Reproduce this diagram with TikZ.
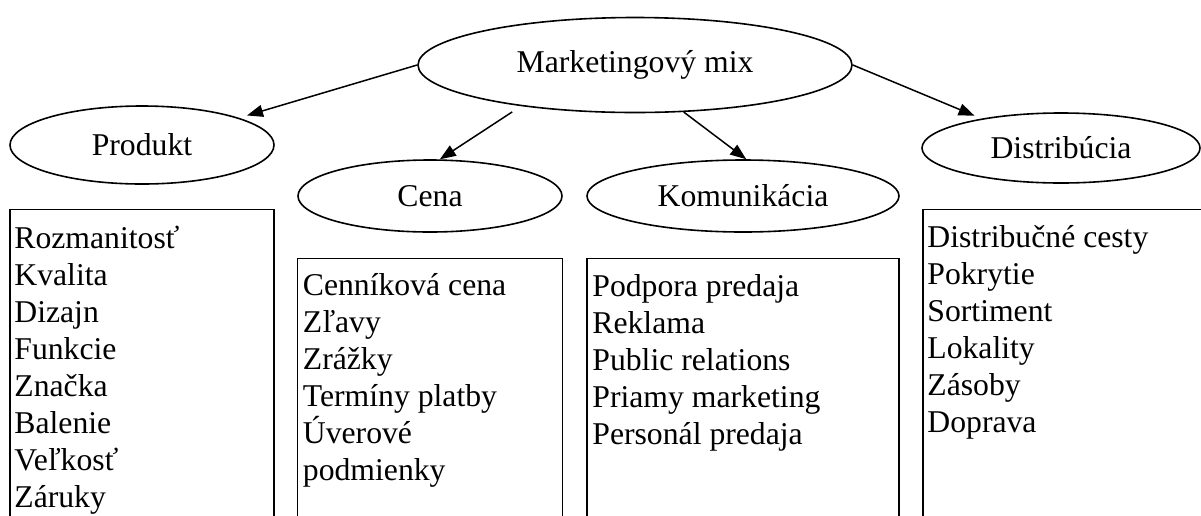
\documentclass[tikz,border=0pt]{standalone}
\usepackage{fontspec}
\setmainfont{Liberation Serif}
\usetikzlibrary{arrows.meta, positioning, calc, shapes.geometric}

\begin{document}
\begin{tikzpicture}[
    x=1pt, y=-1pt,
    font=\fontsize{31.7pt}{37pt}\selectfont,
    oval/.style={ellipse, draw, line width=1.6pt, inner sep=0pt},
    listbox/.style={rectangle, draw, line width=1.6pt, minimum height=400pt},
    item/.style={anchor=base west, inner sep=0pt},
    arr/.style={-{Triangle[length=16pt, width=12pt]}, line width=1.5pt},
]
\useasboundingbox (0,0) rectangle (1201,515);
\clip (0,0) rectangle (1201,515);

\node[oval, minimum width=434pt, minimum height=95pt] (mix) at (635,65) {Marketingový mix};
\node[oval, minimum width=264pt, minimum height=78pt] (prod) at (142,145) {Produkt};
\node[oval, minimum width=264pt, minimum height=72pt] (cena) at (430,196) {Cena};
\node[oval, minimum width=312pt, minimum height=72pt] (kom) at (743,196) {Komunikácia};
\node[oval, minimum width=278pt, minimum height=70pt] (dist) at (1061,148) {Distribúcia};

\node[listbox, minimum width=264pt, below=24pt of prod] (prodbox) {};
\node[listbox, minimum width=265pt, below=25pt of cena] (cenabox) {};
\node[listbox, minimum width=312pt, below=25pt of kom] (kombox) {};
\node[listbox, minimum width=320pt, anchor=north west] (distbox)
    at ($(dist.west |- dist.south)+(1,25)$) {};

\foreach \t [count=\i from 0] in {Rozmanitosť, Kvalita, Dizajn, Funkcie, Značka, Balenie, Veľkosť, Záruky}
    \node[item] (prod-\i) at ($(prodbox.north west)+(5,40+37*\i)$) {\t};
\foreach \t [count=\i from 0] in {Cenníková cena, Zľavy, Zrážky, Termíny platby, Úverové, podmienky}
    \node[item] (cena-\i) at ($(cenabox.north west)+(6,38+37*\i)$) {\t};
\foreach \t [count=\i from 0] in {Podpora predaja, Reklama, Public relations, Priamy marketing, Personál predaja}
    \node[item] (kom-\i) at ($(kombox.north west)+(6,39+37*\i)$) {\t};
\foreach \t [count=\i from 0] in {Distribučné cesty, Pokrytie, Sortiment, Lokality, Zásoby, Doprava}
    \node[item] (dist-\i) at ($(distbox.north west)+(5,39+37*\i)$) {\t};

\draw[arr] (mix.west) -- ([shift={(6,-3)}]prod.15);
\draw[arr] ([yshift=-7pt]mix.-162) -- (cena.75);
\draw[arr] (mix.-44) -- (kom.85);
\draw[arr] (mix.east) -- ([shift={(-6,-3)}]dist.160);

\end{tikzpicture}
\end{document}
